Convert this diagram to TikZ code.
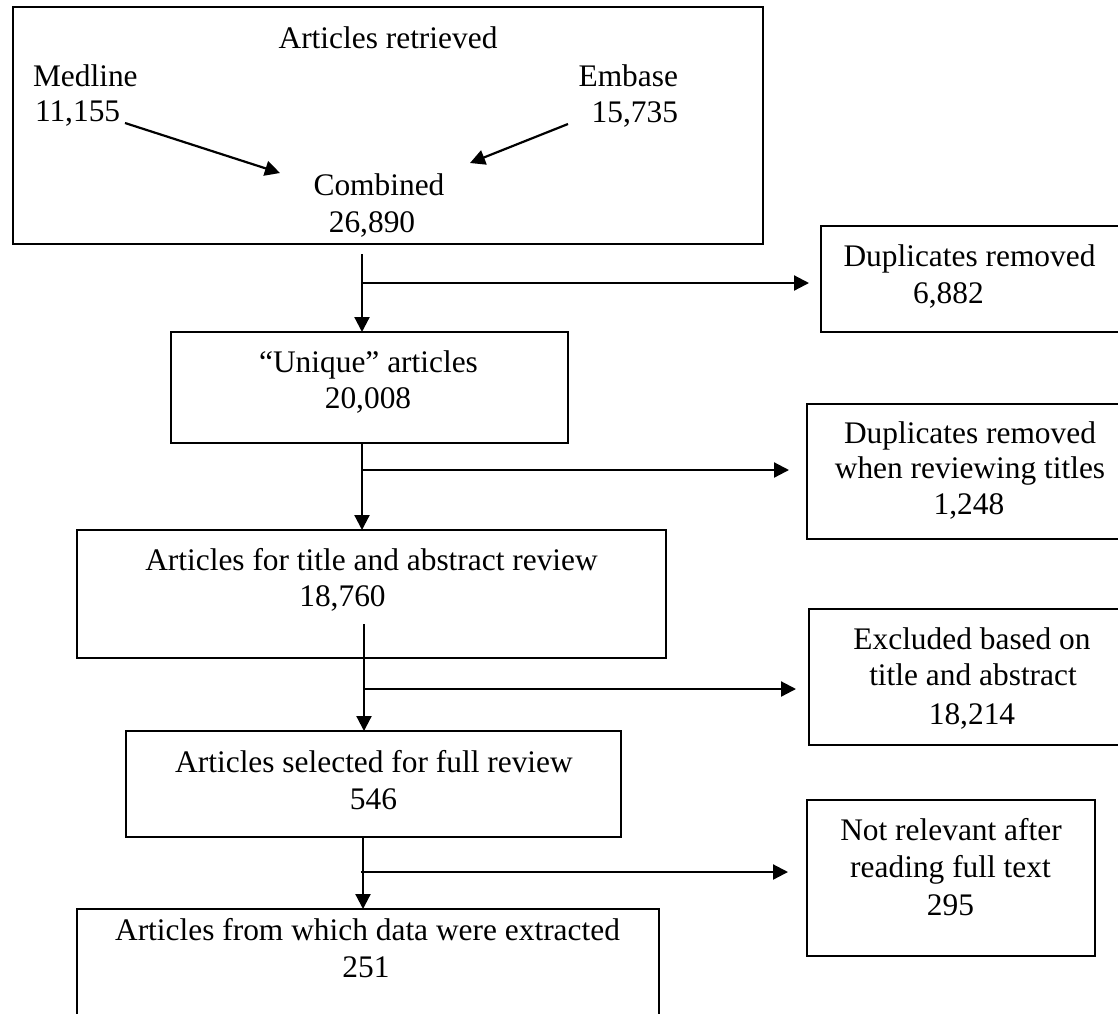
\documentclass[tikz,border=0pt]{standalone}
\usepackage{fontspec}
\setmainfont{Liberation Serif}
\usetikzlibrary{arrows.meta}
\begin{document}
\begin{tikzpicture}[x=0.5pt,y=-0.5pt,
  box/.style={draw=black,line width=1pt,rectangle,inner sep=0pt,outer sep=0pt,fill=none},
  txt/.style={inner sep=0pt,outer sep=0pt,anchor=base,font=\fontsize{15.7}{17.5}\selectfont},
  txtl/.style={txt,anchor=base west},
  txtr/.style={txt,anchor=base east},
  arr/.style={draw=black,line width=1.1pt,-{Triangle[length=7.5pt,width=7.5pt]}},
  ln/.style={draw=black,line width=1.1pt}]
\path[use as bounding box] (0,0) rectangle (1118,1013);
\clip (0,0) rectangle (1118,1013);
\fill[white] (0,0) rectangle (1118,1013);
% boxes
\node[box,minimum width=375.15pt,minimum height=118.35pt] (b1) at (387.85,125.65) {};
\node[box,minimum width=198.5pt,minimum height=55.5pt] (b2) at (369.5,387.5) {};
\node[box,minimum width=294.5pt,minimum height=64pt] (b3) at (371.5,594) {};
\node[box,minimum width=247.5pt,minimum height=53pt] (b4) at (373.5,784) {};
\node[box,minimum width=291pt,minimum height=60.5pt] (b5) at (368,969.5) {};
\node[box,minimum width=154.5pt,minimum height=53pt] (d1) at (975.5,279) {};
\node[box,minimum width=161.5pt,minimum height=67.5pt] (d2) at (968.5,471.5) {};
\node[box,minimum width=160.5pt,minimum height=68pt] (d3) at (969.5,677) {};
\node[box,minimum width=144pt,minimum height=78pt] (d4) at (951,878) {};
% texts box 1
\node[txt] (t1) at (388,48) {Articles retrieved};
\node[txtl] (med) at (33,86) {Medline};
\node[txtl] (medn) at (35,121) {11,155};
\node[txtr] (emb) at (678,86) {Embase};
\node[txtr] (embn) at (678,122) {15,735};
\node[txt] (comb) at (379,195) {Combined};
\node[txt] (combn) at (372,232) {26,890};
% main column texts
\node[txt] (t2) at (368.5,372) {“Unique” articles};
\node[txt] (t2n) at (368,408) {20,008};
\node[txt] (t3) at (371.5,570) {Articles for title and abstract review};
\node[txt] (t3n) at (342.5,606) {18,760};
\node[txt] (t4) at (374,772) {Articles selected for full review};
\node[txt] (t4n) at (373.5,809) {546};
\node[txt] (t5) at (367.5,940) {Articles from which data were extracted};
\node[txt] (t5n) at (366,977) {251};
% side texts
\node[txt] (u1) at (969.5,266) {Duplicates removed};
\node[txt] (u1n) at (948.5,303) {6,882};
\node[txt] (u2) at (970,443) {Duplicates removed};
\node[txt] (u2b) at (970,478) {when reviewing titles};
\node[txt] (u2n) at (969,514) {1,248};
\node[txt] (u3) at (972,649) {Excluded based on};
\node[txt] (u3b) at (973,685) {title and abstract};
\node[txt] (u3n) at (972,724) {18,214};
\node[txt] (u4) at (951,840) {Not relevant after};
\node[txt] (u4b) at (950.5,877) {reading full text};
\node[txt] (u4n) at (950.5,915) {295};
% diagonal arrows
\coordinate (m0) at (125,123);
\coordinate (m1) at (280,173);
\coordinate (e0) at (568,124);
\coordinate (e1) at (470,163);
\draw[arr] (m0) -- (m1);
\draw[arr] (e0) -- (e1);
% vertical arrows and branches
\coordinate (s1) at (362,254);
\coordinate (j1) at (362,283);
\draw[arr] (s1) -- (s1 |- b2.north);
\draw[arr,shorten >=6pt] (j1) -- (j1 -| d1.west);
\coordinate (s2) at (362,443);
\coordinate (j2) at (362,470);
\draw[arr] (s2) -- (s2 |- b3.north);
\draw[arr,shorten >=9pt] (j2) -- (j2 -| d2.west);
\coordinate (s3) at (364,624);
\coordinate (j3) at (364,689);
\draw[arr] (s3) -- (s3 |- b4.north);
\draw[arr,shorten >=6.5pt] (j3) -- (j3 -| d3.west);
\coordinate (s4) at (363,837);
\coordinate (j4) at (361,872);
\draw[arr] (s4) -- (s4 |- b5.north);
\draw[arr,shorten >=9.5pt] (j4) -- (j4 -| d4.west);
\end{tikzpicture}
\end{document}
